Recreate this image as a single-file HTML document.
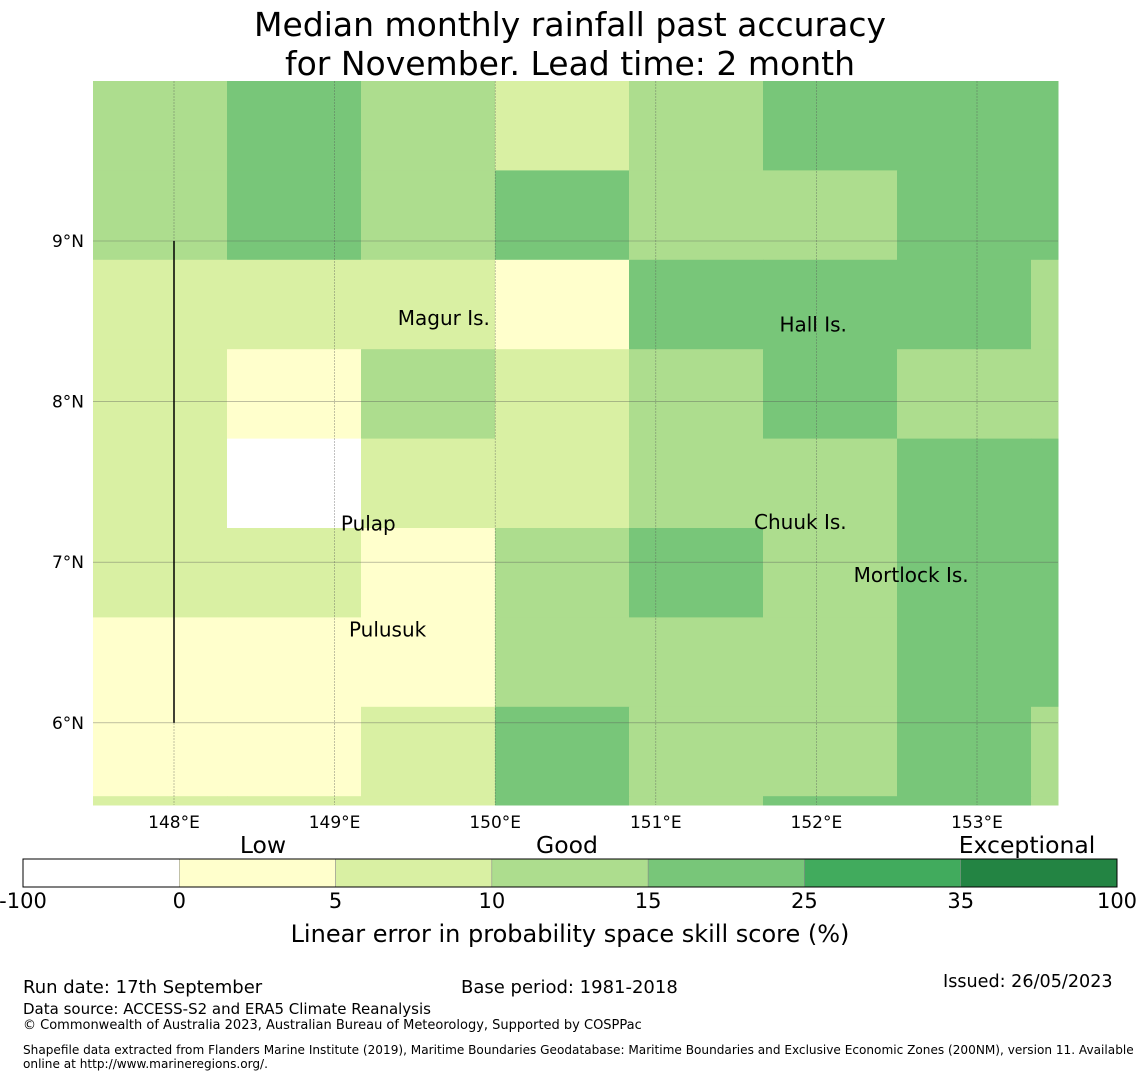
<!DOCTYPE html>
<html><head><meta charset="utf-8"><style>
body{margin:0;background:#fff;font-family:"Liberation Sans","DejaVu Sans",sans-serif;}
#wrap{position:relative;width:1140px;height:1080px;overflow:hidden;}
.t{position:absolute;white-space:nowrap;color:#000;}
</style></head><body>
<div id="wrap">
<div class="t" style="left:0;width:1140px;text-align:center;top:5px;font-size:33px;line-height:39px;font-family:'DejaVu Sans',sans-serif">Median monthly rainfall past accuracy<br>for November. Lead time: 2 month</div>
<svg id="map" width="1140" height="1080" style="position:absolute;left:0;top:0"></svg>
<div class="t" style="left:23px;top:977px;font-size:18px;font-family:'DejaVu Sans',sans-serif">Run date: 17th September</div>
<div class="t" style="left:461px;top:977px;font-size:18px;font-family:'DejaVu Sans',sans-serif">Base period: 1981-2018</div>
<div class="t" style="left:943px;top:972px;font-size:17.6px;font-family:'DejaVu Sans',sans-serif">Issued: 26/05/2023</div>
<div class="t" style="left:23px;top:1000px;font-size:15px;font-family:'DejaVu Sans',sans-serif">Data source: ACCESS-S2 and ERA5 Climate Reanalysis</div>
<div class="t" style="left:23px;top:1018px;font-size:13px;font-family:'DejaVu Sans',sans-serif">© Commonwealth of Australia 2023, Australian Bureau of Meteorology, Supported by COSPPac</div>
<div class="t" style="left:23px;top:1043px;font-size:12.1px;line-height:14px;font-family:'DejaVu Sans',sans-serif">Shapefile data extracted from Flanders Marine Institute (2019), Maritime Boundaries Geodatabase: Maritime Boundaries and Exclusive Economic Zones (200NM), version 11. Available<br>online at http://www.marineregions.org/.</div>
</div>
<script>
const colors=["#ffffff","#ffffcc","#d9f0a3","#addd8e","#78c679","#41ab5d","#238443"];
const cbTicks=["-100","0","5","10","15","25","35","100"];
const lonTicks=[148,149,150,151,152,153];
const latTicks=[9,8,7,6];
const cellCats=[
[3,4,3,2,3,4,4,4],
[3,4,3,4,3,3,4,4],
[2,2,2,1,4,4,4,3],
[2,1,3,2,3,4,3,3],
[2,0,2,2,3,3,4,4],
[2,2,1,3,4,3,4,4],
[1,1,1,3,3,3,4,4],
[1,1,2,4,3,3,4,3],
[2,2,2,4,3,4,4,3]];
const islands=[["Magur Is.",149.68,8.52],["Hall Is.",151.98,8.48],["Pulap",149.21,7.24],["Chuuk Is.",151.9,7.25],["Mortlock Is.",152.59,6.92],["Pulusuk",149.33,6.58]];
const NS="http://www.w3.org/2000/svg";
const svg=document.getElementById('map');
const X0=93,X1=1058,Y0=81,Y1=805;
const lonX=l=>174+(l-148)*160.6;
const latY=l=>241+(9-l)*160.6;
const cw=134,ch=89.4;
function mk(t,a){const e=document.createElementNS(NS,t);for(const k in a)e.setAttribute(k,a[k]);svg.appendChild(e);return e;}
cellCats.forEach((row,r)=>row.forEach((c,i)=>{
 const x=X0+i*cw,y=Y0+r*ch;
 const e=mk('rect',{x:x,y:y,width:Math.min(cw,X1-x)+0.5,height:Math.min(ch,Y1-y)+0.5,fill:colors[c]});
 
 
}));
lonTicks.forEach(l=>{const x=lonX(l);
 const g=mk('line',{x1:x,x2:x,y1:Y0,y2:Y1,stroke:'#555','stroke-width':0.6,'stroke-dasharray':'2,1','stroke-opacity':0.6});
 
 const t=mk('text',{x:x,y:828,'font-size':17,'text-anchor':'middle','font-family':'DejaVu Sans,sans-serif'});t.textContent=l+'°E';
 });
latTicks.forEach(l=>{const y=latY(l);
 const g=mk('line',{x1:X0,x2:X1,y1:y,y2:y,stroke:'#555','stroke-width':0.6,'stroke-opacity':0.6});
 
 const t=mk('text',{x:84,y:y+6,'font-size':17,'text-anchor':'end','font-family':'DejaVu Sans,sans-serif'});t.textContent=l+'°N';
 });
const vl=mk('line',{x1:lonX(148),x2:lonX(148),y1:latY(9),y2:latY(6),stroke:'#000','stroke-width':1.5});

islands.forEach(d=>{const t=mk('text',{x:lonX(d[1]),y:latY(d[2])+7,'font-size':20,'text-anchor':'middle','font-family':'DejaVu Sans,sans-serif'});t.textContent=d[0];
 });
const CB0=23,CB1=1117,n=colors.length,sw=(CB1-CB0)/n;
colors.forEach((c,i)=>{const e=mk('rect',{x:CB0+i*sw,y:859,width:sw,height:28,fill:c,stroke:'#888','stroke-width':0.5});
 });
const fr=mk('rect',{x:CB0,y:859,width:CB1-CB0,height:28,fill:'none',stroke:'#000','stroke-width':1});

cbTicks.forEach((s,i)=>{const t=mk('text',{x:CB0+i*sw,y:908,'font-size':21,'text-anchor':'middle','font-family':'DejaVu Sans,sans-serif'});t.textContent=s;
 });
[["Low",263],["Good",567],["Exceptional",1027]].forEach(d=>{const t=mk('text',{x:d[1],y:853,'font-size':23.5,'text-anchor':'middle','font-family':'DejaVu Sans,sans-serif'});t.textContent=d[0];
 });
const ct=mk('text',{x:570,y:942,'font-size':24,'text-anchor':'middle','font-family':'DejaVu Sans,sans-serif'});ct.textContent='Linear error in probability space skill score (%)';

</script>
</body></html>
